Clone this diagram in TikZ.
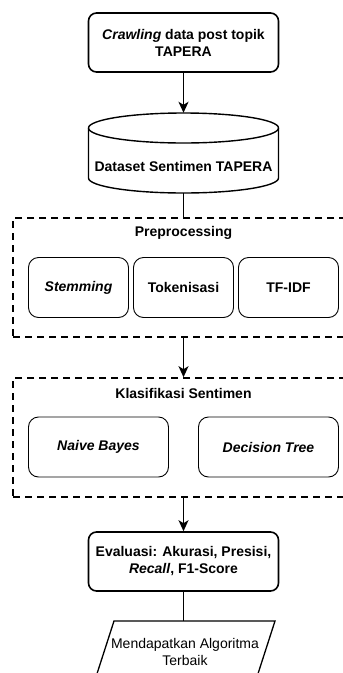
\documentclass[tikz,border=0pt]{standalone}
\usepackage{fontspec}
\setmainfont{Liberation Sans}
\usetikzlibrary{arrows.meta}
\begin{document}
\begin{tikzpicture}[x=1pt,y=-1pt,
  every node/.style={font=\fontsize{14}{17}\selectfont\bfseries, align=center, inner sep=0pt},
  mainbox/.style={draw, line width=1.6pt, rounded corners=8pt, minimum width=190pt, minimum height=59pt},
  subbox/.style={draw, line width=0.9pt, rounded corners=10pt, minimum height=60pt},
  groupbox/.style={draw, line width=1.6pt, dash pattern=on 7pt off 5pt, minimum width=341pt, minimum height=119pt},
  conn/.style={line width=1.6pt},
  arr/.style={conn, -{Stealth[length=11pt,width=10pt,inset=3pt]}},
  plain/.style={font=\fontsize{14}{17}\selectfont\mdseries}
]
\useasboundingbox (0,0) rectangle (343,673);
\clip (0,0) rectangle (343,673);

% top box
\node[mainbox] (crawl) at (183.5,42.5) {\textit{Crawling} data post topik\\TAPERA};

% cylinder
\node[minimum width=190pt, minimum height=80pt] (ds) at (183.5,153) {};
\draw[line width=1.4pt] (88.5,128) -- (88.5,178)
  arc[start angle=180, end angle=360, x radius=95pt, y radius=15pt] -- (278.5,128);
\draw[line width=1.4pt] (183.5,128) ellipse [x radius=95pt, y radius=15pt];
\node (dstext) at (183.5,166) {Dataset Sentimen TAPERA};

% preprocessing group
\node[groupbox] (prep) at (183.5,277.5) {};
\node (preptitle) at (183.5,233) {Preprocessing};
\node[subbox, minimum width=100pt] (stem) at (78.5,287.5) {\textit{Stemming}};
\node[subbox, minimum width=100pt] (tok) at (183.5,287.5) {Tokenisasi};
\node[subbox, minimum width=100pt] (tfidf) at (288.5,287.5) {TF-IDF};

% classification group
\node[groupbox] (klas) at (183.5,437.5) {};
\node (klastitle) at (183.5,393) {Klasifikasi Sentimen};
\node[subbox, minimum width=140pt] (nb) at (98.5,447) {\textit{Naive Bayes}};
\node[subbox, minimum width=140pt] (dt) at (268.5,447) {\textit{Decision Tree}};

% evaluation
\node[mainbox] (eval) at (183.5,561.5) {Evaluasi: Akurasi, Presisi,\\\textit{Recall}, F1-Score};

% output parallelogram
\draw[line width=1.3pt] (114,621) -- (275,621) -- (255,683) -- (94,683) -- cycle;
\coordinate (outtop) at (183.5,621);
\node[plain] (out) at (185,652) {Mendapatkan Algoritma\\Terbaik};

% connectors
\draw[arr] (crawl.south) -- (ds.north);
\draw[conn] (ds.south) -- (prep.north);
\draw[arr] (prep.south) -- (klas.north);
\draw[arr] (klas.south) -- (eval.north);
\draw[conn] (eval.south) -- (outtop);
\end{tikzpicture}
\end{document}
